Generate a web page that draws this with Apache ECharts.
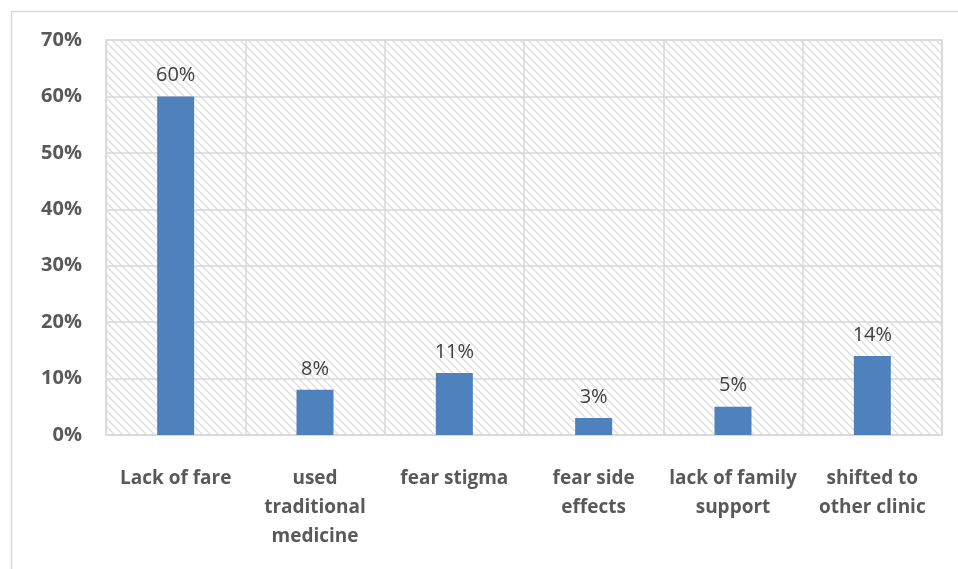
<!DOCTYPE html>
<html>
<head>
<meta charset="utf-8">
<script src="https://cdn.jsdelivr.net/npm/echarts@6/dist/echarts.min.js"></script>
<style>
  html, body { margin: 0; padding: 0; background: #fff; }
  #chart { width: 958px; height: 569px; }
</style>
</head>
<body>
<div id="chart"></div>
<script>
var categories = ['Lack of fare', 'used\ntraditional\nmedicine', 'fear stigma', 'fear side\neffects', 'lack of family\nsupport', 'shifted to\nother clinic']
var values = [60, 8, 11, 3, 5, 14]
var yTicks = [0, 10, 20, 30, 40, 50, 60, 70]

// diagonal hatch for the plot background
function makeHatch () {
  var c = document.createElement('canvas')
  c.width = 8
  c.height = 8
  var ctx = c.getContext('2d')
  ctx.fillStyle = '#ffffff'
  ctx.fillRect(0, 0, 8, 8)
  ctx.strokeStyle = '#dcdcdc'
  ctx.lineWidth = 1.3
  ctx.beginPath()
  ctx.moveTo(-2, -2); ctx.lineTo(10, 10)
  ctx.moveTo(-2, 6); ctx.lineTo(2, 10)
  ctx.moveTo(6, -2); ctx.lineTo(10, 2)
  ctx.stroke()
  return c
}

var chart = echarts.init(document.getElementById('chart'))
var option = {
  animation: false,
  textStyle: { fontFamily: 'Open Sans' },
  graphic: [{
    type: 'rect',
    shape: { x: 11.5, y: 11.5, width: 960, height: 570 },
    style: { fill: 'none', stroke: '#d9d9d9', lineWidth: 1.5 },
    z: -10
  }],
  grid: {
    left: 106,
    right: 16,
    top: 40,
    bottom: 134,
    show: true,
    backgroundColor: { image: makeHatch(), repeat: 'repeat' },
    borderColor: '#d9d9d9',
    borderWidth: 1.5
  },
  xAxis: {
    type: 'category',
    data: categories,
    axisLine: { lineStyle: { color: '#d9d9d9', width: 1.5 } },
    axisTick: { show: false },
    splitLine: { show: true, lineStyle: { color: '#d9d9d9', width: 1.5 } },
    axisLabel: {
      interval: 0,
      margin: 29,
      color: '#595959',
      fontWeight: 'bold',
      fontSize: 19,
      lineHeight: 29,
      fontFamily: 'Open Sans'
    }
  },
  yAxis: {
    type: 'value',
    min: yTicks[0],
    max: yTicks[yTicks.length - 1],
    interval: 10,
    axisLine: { show: false },
    axisTick: { show: false },
    splitLine: { lineStyle: { color: '#d9d9d9', width: 1.5 } },
    axisLabel: {
      margin: 24,
      color: '#595959',
      fontWeight: 'bold',
      fontSize: 20,
      fontFamily: 'Open Sans',
      formatter: '{value}%'
    }
  },
  series: [{
    type: 'bar',
    data: values,
    barWidth: 37,
    itemStyle: { color: '#4f81bd' },
    label: {
      show: true,
      position: 'top',
      distance: 11,
      color: '#404040',
      fontSize: 20,
      fontFamily: 'Open Sans',
      formatter: '{c}%'
    }
  }]
}
chart.setOption(option)
</script>
</body>
</html>
